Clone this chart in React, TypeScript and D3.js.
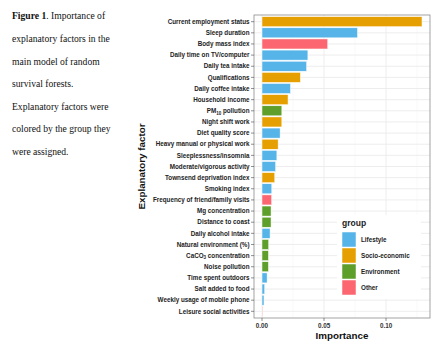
import React from "react";
import * as d3 from "d3";

const factors = [
  "Current employment status",
  "Sleep duration",
  "Body mass index",
  "Daily time on TV/computer",
  "Daily tea intake",
  "Qualifications",
  "Daily coffee intake",
  "Household income",
  "PM10 pollution",
  "Night shift work",
  "Diet quality score",
  "Heavy manual or physical work",
  "Sleeplessness/insomnia",
  "Moderate/vigorous activity",
  "Townsend deprivation index",
  "Smoking index",
  "Frequency of friend/family visits",
  "Mg concentration",
  "Distance to coast",
  "Daily alcohol intake",
  "Natural environment (%)",
  "CaCO3 concentration",
  "Noise pollution",
  "Time spent outdoors",
  "Salt added to food",
  "Weekly usage of mobile phone",
  "Leisure social activities",
];

const importance = [
  0.129, 0.077, 0.053, 0.037, 0.036, 0.031, 0.023, 0.021, 0.016, 0.016, 0.0146,
  0.013, 0.012, 0.011, 0.0103, 0.0079, 0.0078, 0.0073, 0.0073, 0.0065, 0.0054,
  0.0052, 0.0052, 0.0041, 0.0022, 0.0016, 0.0001,
];

const groups = [
  "Socio-economic", "Lifestyle", "Other", "Lifestyle", "Lifestyle", "Socio-economic",
  "Lifestyle", "Socio-economic", "Environment", "Socio-economic", "Lifestyle",
  "Socio-economic", "Lifestyle", "Lifestyle", "Socio-economic", "Lifestyle", "Other",
  "Environment", "Environment", "Lifestyle", "Environment", "Environment",
  "Environment", "Lifestyle", "Lifestyle", "Lifestyle", "Other",
];

const groupNames = ["Lifestyle", "Socio-economic", "Environment", "Other"];
const groupColors = ["#56B4E9", "#E69F00", "#5E9E2B", "#FB6670"];

const xTicks = [0, 0.05, 0.1];
const xTickLabels = ["0.00", "0.05", "0.10"];
const xMinor = [0.025, 0.075, 0.125];

const captionLines = [
  "explanatory factors in the",
  "main model of random",
  "survival forests.",
  "Explanatory factors were",
  "colored by the group they",
  "were assigned.",
];

const W = 442;
const H = 356;
const panel = { left: 254, right: 430, top: 15, bottom: 318 };

function Label({ name, x, y }: { name: string; x: number; y: number }) {
  const sub = name.startsWith("PM10") ? "pm" : name.startsWith("CaCO3") ? "ca" : null;
  if (sub === "pm") {
    return (
      <text x={x} y={y} textAnchor="end" dy="0.35em">
        PM<tspan fontSize="4.5" dy="1.5">10</tspan>
        <tspan dy="-1.5"> pollution</tspan>
      </text>
    );
  }
  if (sub === "ca") {
    return (
      <text x={x} y={y} textAnchor="end" dy="0.35em">
        CaCO<tspan fontSize="4.5" dy="1.5">3</tspan>
        <tspan dy="-1.5"> concentration</tspan>
      </text>
    );
  }
  return (
    <text x={x} y={y} textAnchor="end" dy="0.35em">
      {name}
    </text>
  );
}

export default function App() {
  const maxV = d3.max(importance) as number;
  const ex = maxV * 0.05;
  const x = d3.scaleLinear().domain([-ex, maxV + ex]).range([panel.left, panel.right]);
  const y = d3
    .scaleBand<string>()
    .domain(factors)
    .range([panel.top, panel.bottom])
    .paddingInner(0.1)
    .paddingOuter(0.15);
  const color = d3.scaleOrdinal<string, string>().domain(groupNames).range(groupColors);
  const bw = y.bandwidth();

  const legX = 342;
  const legY = 218;
  const keyH = 16;

  return (
    <div style={{ position: "absolute", left: 0, top: 0 }}>
      <svg width={W} height={H} style={{ display: "block", background: "#fff" }}>
        {/* caption */}
        <g fontFamily="'Liberation Serif', 'Times New Roman', serif" fontSize="9.6" fill="#111">
          <text x={12} y={19}>
            <tspan fontWeight="bold">Figure 1</tspan>. Importance of
          </text>
          {captionLines.map((l, i) => (
            <text key={i} x={12} y={42 + i * 22.6}>
              {l}
            </text>
          ))}
        </g>

        {/* panel background + grid */}
        <rect x={panel.left} y={panel.top} width={panel.right - panel.left} height={panel.bottom - panel.top} fill="#fff" />
        {xMinor.map((t) => (
          <line key={"m" + t} x1={x(t)} x2={x(t)} y1={panel.top} y2={panel.bottom} stroke="#f2f2f2" strokeWidth={0.5} />
        ))}
        {xTicks.map((t) => (
          <line key={"g" + t} x1={x(t)} x2={x(t)} y1={panel.top} y2={panel.bottom} stroke="#ebebeb" strokeWidth={0.9} />
        ))}
        {factors.map((f) => (
          <line key={"h" + f} x1={panel.left} x2={panel.right} y1={(y(f) as number) + bw / 2} y2={(y(f) as number) + bw / 2} stroke="#ebebeb" strokeWidth={0.9} />
        ))}

        {/* bars */}
        {factors.map((f, i) => (
          <rect
            key={"b" + f}
            x={x(0)}
            y={y(f) as number}
            width={Math.max(0.4, x(importance[i]) - x(0))}
            height={bw}
            fill={color(groups[i])}
            stroke="#fff"
            strokeWidth={0.5}
          />
        ))}

        {/* legend */}
        <rect x={legX - 5} y={legY - 3} width={84} height={keyH * 4 + 20} fill="#fff" />
        <text x={legX} y={legY + 8} fontFamily="'Liberation Sans', Arial, sans-serif" fontSize="8.5" fontWeight="bold" fill="#222">
          group
        </text>
        {groupNames.map((g, i) => (
          <g key={"l" + g}>
            <rect x={legX} y={legY + 14 + i * keyH} width={14} height={keyH - 1} fill={color(g)} stroke="#fff" strokeWidth={0.5} />
            <text
              x={legX + 19}
              y={legY + 14 + i * keyH + keyH / 2}
              dy="0.35em"
              fontFamily="'Liberation Sans', Arial, sans-serif"
              fontSize="6.3"
              fontWeight="bold"
              fill="#222"
            >
              {g}
            </text>
          </g>
        ))}

        {/* panel border */}
        <rect x={panel.left} y={panel.top} width={panel.right - panel.left} height={panel.bottom - panel.top} fill="none" stroke="#8c8c8c" strokeWidth={0.8} />

        {/* y axis */}
        <g fontFamily="'Liberation Sans', Arial, sans-serif" fontSize="6.3" fontWeight="bold" fill="#222">
          {factors.map((f) => {
            const cy = (y(f) as number) + bw / 2;
            return (
              <g key={"y" + f}>
                <line x1={panel.left - 3} x2={panel.left} y1={cy} y2={cy} stroke="#444" strokeWidth={0.6} />
                <Label name={f} x={panel.left - 4.5} y={cy} />
              </g>
            );
          })}
        </g>

        {/* x axis */}
        <g fontFamily="'Liberation Sans', Arial, sans-serif" fontSize="6.3" fontWeight="bold" fill="#333">
          {xTicks.map((t, i) => (
            <g key={"x" + t}>
              <line x1={x(t)} x2={x(t)} y1={panel.bottom} y2={panel.bottom + 3} stroke="#444" strokeWidth={0.6} />
              <text x={x(t)} y={panel.bottom + 9.5} textAnchor="middle">
                {xTickLabels[i]}
              </text>
            </g>
          ))}
        </g>

        <text
          x={(panel.left + panel.right) / 2}
          y={339}
          textAnchor="middle"
          fontFamily="'Liberation Sans', Arial, sans-serif"
          fontSize="9.8"
          fontWeight="bold"
          fill="#111"
        >
          Importance
        </text>
        <text
          transform={`translate(145, ${(panel.top + panel.bottom) / 2}) rotate(-90)`}
          textAnchor="middle"
          fontFamily="'Liberation Sans', Arial, sans-serif"
          fontSize="9.8"
          fontWeight="bold"
          fill="#111"
        >
          Explanatory factor
        </text>
      </svg>
    </div>
  );
}
